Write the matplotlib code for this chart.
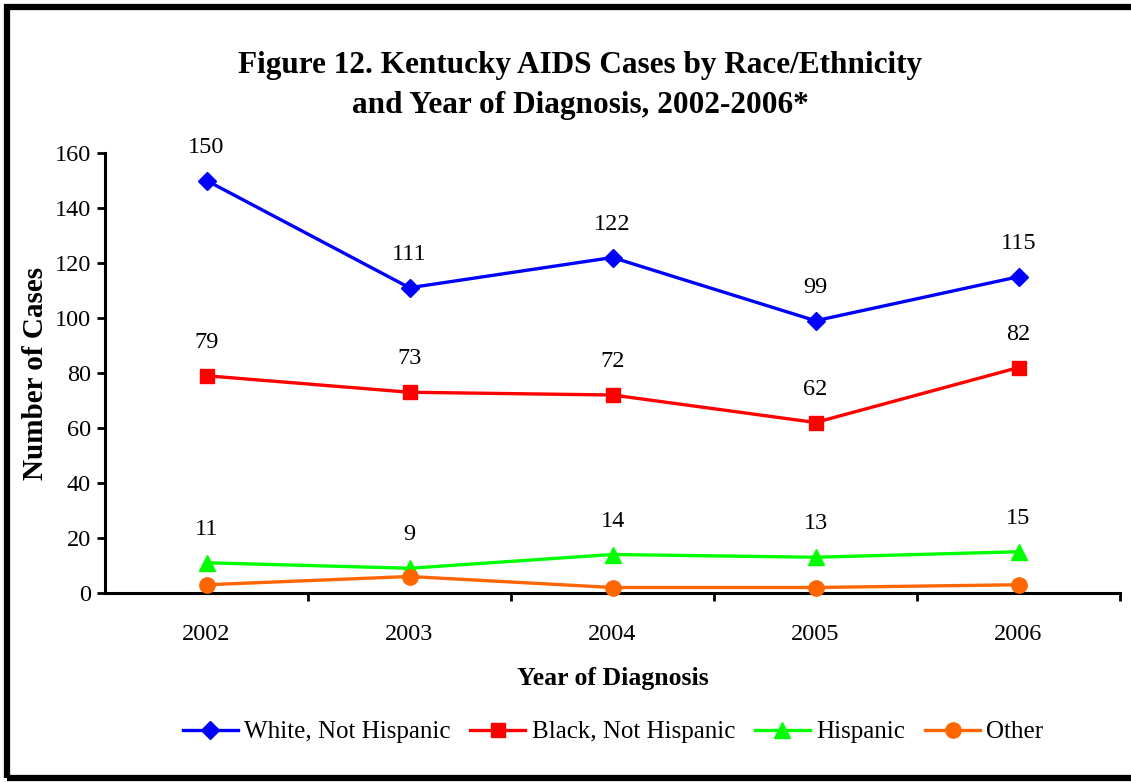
import matplotlib
matplotlib.use("Agg")
import matplotlib.pyplot as plt
from matplotlib.patches import Rectangle

plt.rcParams['font.family'] = ['Liberation Serif', 'DejaVu Serif']

years = ["2002", "2003", "2004", "2005", "2006"]
white = [150, 111, 122, 99, 115]
black = [79, 73, 72, 62, 82]
hispanic = [11, 9, 14, 13, 15]
other = [3, 6, 2, 2, 3]

series_names = ["White, Not Hispanic", "Black, Not Hispanic", "Hispanic", "Other"]
colors = ["#0000FF", "#FF0000", "#00FF00", "#FF6600"]
markers = ["D", "s", "^", "o"]
msizes = [9, 10, 11, 11]

fig = plt.figure(figsize=(11.31, 7.83), dpi=100)
ax = fig.add_axes([105/1131, 190/783, 1015/1131, 440/783])

x = list(range(len(years)))
all_series = [white, black, hispanic, other]
handles = []
for vals, name, c, m, ms in zip(all_series, series_names, colors, markers, msizes):
    h, = ax.plot(x, vals, color=c, marker=m, markersize=ms, linewidth=2.4,
                 markeredgecolor=c, label=name, clip_on=False, zorder=3)
    handles.append(h)

for vals in [white, black, hispanic]:
    for xi, v in zip(x, vals):
        ax.annotate(str(v), (xi, v), xytext=(0, 24), textcoords="offset points",
                    ha="center", va="center", fontsize=17.5)

ax.set_xlim(-0.5, 4.5)
ax.set_ylim(0, 160)
ax.set_yticks(range(0, 161, 20))
ax.set_xticks(x)
ax.set_xticklabels(years)
ax.set_xticks([i + 0.5 for i in x], minor=True)
ax.tick_params(axis="x", which="major", length=0, pad=22, labelsize=17.5)
ax.tick_params(axis="x", which="minor", length=6, width=2, direction="out")
ax.tick_params(axis="y", length=6, width=2, direction="out", labelsize=17.5, pad=4)
for s in ["top", "right"]:
    ax.spines[s].set_visible(False)
for s in ["left", "bottom"]:
    ax.spines[s].set_linewidth(2.2)

ax.set_xlabel("Year of Diagnosis", fontsize=18.5, fontweight="bold", labelpad=16)
ax.set_ylabel("Number of Cases", fontsize=21, fontweight="bold", labelpad=4)

fig.text(580/1131, 1 - 65/783, "Figure 12. Kentucky AIDS Cases by Race/Ethnicity",
         ha="center", va="center", fontsize=22.5, fontweight="bold")
fig.text(580/1131, 1 - 105/783, "and Year of Diagnosis, 2002-2006*",
         ha="center", va="center", fontsize=22.5, fontweight="bold")

fig.legend(handles=handles, labels=series_names, loc="center",
           bbox_to_anchor=(613/1131, 1 - 732/783), ncol=4, frameon=False,
           fontsize=18, handlelength=2.2, handletextpad=0.25, columnspacing=0.8)

# outer frame
fig.patches.append(Rectangle((7/1131, 5/783), 1.2, 1 - 12/783, transform=fig.transFigure,
                             fill=False, edgecolor="black", linewidth=4.5))

fig.savefig("out.png", dpi=100, facecolor="white")
